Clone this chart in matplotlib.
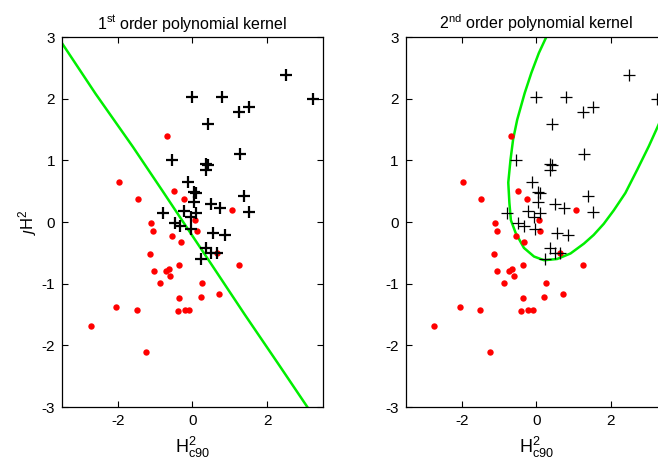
import numpy as np
import matplotlib.pyplot as plt

plt.rcParams['font.family'] = ['Liberation Sans', 'DejaVu Sans']
plt.rcParams['mathtext.fontset'] = 'custom'
plt.rcParams['mathtext.rm'] = 'Liberation Sans'
plt.rcParams['mathtext.it'] = 'Liberation Sans:italic'
plt.rcParams['axes.unicode_minus'] = False

# class 1 (red dots)
red_x = [-0.68, -1.96, -1.47, -0.50, -0.24, 1.07, -1.11, 0.07, -1.06, 0.11,
         -0.54, -0.32, -1.14, 0.65, 1.26, -0.35, -1.04, -0.72, -0.64, -0.60,
         -0.86, 0.26, -0.35, 0.22, 0.72, -2.04, -1.50, -0.40, -0.21, -0.10,
         -2.73, -1.25]
red_y = [1.39, 0.65, 0.38, 0.51, 0.38, 0.19, -0.02, 0.04, -0.14, -0.14,
         -0.23, -0.32, -0.52, -0.50, -0.70, -0.70, -0.80, -0.80, -0.76, -0.87,
         -0.99, -0.99, -1.24, -1.21, -1.17, -1.38, -1.42, -1.45, -1.42, -1.42,
         -1.68, -2.11]

# class 2 (black crosses)
blk_x = [2.50, 3.24, 0.00, 0.80, 1.25, 1.52, 0.42, -0.54, 1.28, 0.36,
         0.42, 0.36, -0.12, 0.04, 0.09, 0.05, 0.49, 0.74, 1.39, 1.52,
         -0.79, -0.22, 0.10, -0.05, -0.48, -0.34, -0.03, 0.56, 0.86, 0.37,
         0.49, 0.65, 0.24]
blk_y = [2.39, 1.99, 2.02, 2.02, 1.79, 1.87, 1.59, 1.00, 1.11, 0.94,
         0.93, 0.84, 0.65, 0.48, 0.47, 0.33, 0.29, 0.22, 0.42, 0.17,
         0.14, 0.18, 0.14, 0.08, -0.01, -0.07, -0.12, -0.18, -0.21, -0.42,
         -0.50, -0.51, -0.60]

# decision boundaries
lin_x = [-3.5, -2.6, -1.6, -0.8, -0.25, 0.5, 1.4, 2.3, 3.08]
lin_y = [2.90, 2.08, 1.22, 0.50, 0.0, -0.68, -1.50, -2.30, -3.0]

quad_x = [0.27, 0.07, -0.13, -0.31, -0.51, -0.62, -0.69, -0.75, -0.72, -0.68,
          -0.55, -0.33, -0.06, 0.21, 0.56, 0.92, 1.28, 1.54, 1.81, 2.08,
          2.39, 2.71, 3.02, 3.26, 3.5]
quad_y = [3.0, 2.74, 2.42, 2.09, 1.66, 1.34, 1.01, 0.64, 0.31, 0.03,
          -0.18, -0.42, -0.56, -0.62, -0.60, -0.51, -0.35, -0.21, -0.03, 0.19,
          0.47, 0.85, 1.23, 1.55, 1.88]

titles = ['1$^{\\mathrm{st}}$ order polynomial kernel',
          '2$^{\\mathrm{nd}}$ order polynomial kernel']
ticks_x = [-2, 0, 2]
ticks_y = [-3, -2, -1, 0, 1, 2, 3]

fig = plt.figure(figsize=(6.58, 4.66), dpi=100)
ax1 = fig.add_axes([0.0942, 0.1266, 0.3967, 0.794])
ax2 = fig.add_axes([0.6166, 0.1266, 0.3967, 0.794])

for ax, title, bx, by, cw in [(ax1, titles[0], lin_x, lin_y, 1.6),
                              (ax2, titles[1], quad_x, quad_y, 0.9)]:
    ax.plot(bx, by, color='#00ee00', lw=1.8, zorder=1)
    ax.plot(red_x, red_y, 'o', color='red', ms=4.6, mec='none', zorder=2)
    ax.plot(blk_x, blk_y, '+', color='black', ms=8.5, mew=cw, zorder=3)
    ax.set_xlim(-3.5, 3.5)
    ax.set_ylim(-3, 3)
    ax.set_xticks(ticks_x)
    ax.set_yticks(ticks_y)
    ax.tick_params(direction='in', top=True, right=True, length=4,
                   labelsize=11, width=0.8, pad=5)
    for s in ax.spines.values():
        s.set_linewidth(0.9)
    ax.set_title(title, fontsize=11.5, pad=6)
    ax.set_xlabel('H$^2_{\\mathrm{c90}}$', fontsize=13, labelpad=5)

ax1.set_ylabel('$\\jmath$H$^2$', fontsize=12, labelpad=2)

fig.savefig('out.png', dpi=100)
